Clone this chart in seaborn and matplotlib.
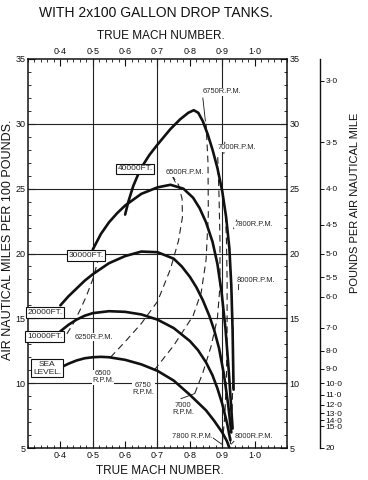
import matplotlib
matplotlib.use("Agg")
import matplotlib.pyplot as plt
import seaborn as sns
from matplotlib.ticker import MultipleLocator, FixedLocator, FuncFormatter

# solid curves: air nautical miles per 100 lb against true Mach number
sea_mach = [0.40, 0.425, 0.45, 0.475, 0.50, 0.525, 0.55, 0.60, 0.65, 0.70, 0.75, 0.80,
            0.825, 0.85, 0.875, 0.90, 0.915, 0.922]
sea_val = [11.2, 11.5, 11.75, 11.92, 12.0, 12.03, 12.0, 11.8, 11.45, 10.95, 10.2, 9.1,
           8.5, 7.9, 7.1, 6.2, 5.5, 5.0]

ft10_mach = [0.40, 0.425, 0.45, 0.475, 0.50, 0.55, 0.60, 0.65, 0.70, 0.75, 0.80, 0.825,
             0.85, 0.87, 0.885, 0.90, 0.915, 0.925]
ft10_val = [14.0, 14.5, 14.9, 15.2, 15.4, 15.55, 15.5, 15.3, 14.9, 14.25, 13.25, 12.55,
            11.6, 10.6, 9.6, 8.4, 6.9, 5.6]

ft20_mach = [0.40, 0.425, 0.45, 0.475, 0.50, 0.55, 0.60, 0.65, 0.70, 0.75, 0.775, 0.80,
             0.82, 0.84, 0.86, 0.875, 0.89, 0.905, 0.918, 0.928]
ft20_val = [16.0, 16.7, 17.3, 17.9, 18.4, 19.25, 19.8, 20.15, 20.1, 19.6, 19.0, 18.2,
            17.4, 16.4, 15.2, 14.1, 12.7, 10.7, 8.4, 6.2]

ft30_mach = [0.50, 0.525, 0.55, 0.575, 0.60, 0.65, 0.70, 0.74, 0.78, 0.81, 0.83, 0.85,
             0.87, 0.885, 0.898, 0.91, 0.92, 0.928, 0.932]
ft30_val = [20.3, 21.5, 22.4, 23.1, 23.7, 24.6, 25.1, 25.3, 25.0, 24.3, 23.5, 22.4,
            20.9, 19.2, 17.0, 14.2, 11.0, 8.0, 6.5]

ft40_mach = [0.60, 0.61, 0.625, 0.647, 0.675, 0.70, 0.74, 0.77, 0.795, 0.812, 0.826, 0.84,
             0.855, 0.87, 0.885, 0.90, 0.912, 0.922, 0.928, 0.932, 0.935]
ft40_val = [23.0, 24.0, 25.2, 26.5, 27.6, 28.4, 29.6, 30.35, 30.85, 31.05, 30.85, 30.2,
            29.2, 28.0, 26.6, 24.8, 22.8, 20.4, 17.5, 14.0, 9.5]

# dashed curves: constant engine r.p.m.
rpm6250_mach = [0.42, 0.44, 0.46, 0.48, 0.50, 0.52]
rpm6250_val = [13.8, 14.6, 15.6, 16.7, 18.0, 19.8]

rpm6500_mach = [0.555, 0.60, 0.65, 0.70, 0.74, 0.765, 0.777, 0.776, 0.765, 0.748]
rpm6500_val = [12.0, 13.2, 14.6, 16.3, 18.8, 21.0, 22.8, 24.2, 25.3, 25.9]

rpm6750_mach = [0.69, 0.75, 0.81, 0.835, 0.85, 0.857, 0.856, 0.85]
rpm6750_val = [11.0, 12.9, 15.2, 17.0, 19.5, 23.0, 27.0, 30.0]

rpm7000_mach = [0.815, 0.84, 0.865, 0.885, 0.893, 0.893, 0.89, 0.886]
rpm7000_val = [9.2, 10.8, 12.8, 15.0, 17.5, 21.0, 24.5, 27.5]

rpm7800_mach = [0.90, 0.908, 0.913, 0.915, 0.915, 0.913, 0.91]
rpm7800_val = [5.3, 7.5, 10.5, 14.0, 18.0, 21.0, 22.8]

rpm8000_mach = [0.925, 0.93, 0.933, 0.933, 0.93, 0.927]
rpm8000_val = [5.3, 7.5, 10.5, 14.0, 16.5, 17.8]

mach_ticks = [0.4, 0.5, 0.6, 0.7, 0.8, 0.9, 1.0]
grid_mach = [0.5, 0.7, 0.9]
grid_val = [10, 15, 20, 25, 30]
pounds_ticks = [3.0, 3.5, 4.0, 4.5, 5.0, 5.5, 6.0, 7.0, 8.0, 9.0, 10.0, 11.0, 12.0, 13.0, 14.0, 15.0, 20]


def dot(v):
    return f"{v:.1f}".replace(".", "\u00b7")


sns.set_theme(style="ticks")
plt.rcParams["font.family"] = ["Liberation Sans", "DejaVu Sans"]

W, H = 368, 480
fig = plt.figure(figsize=(W / 100, H / 100), dpi=100)
fig.patch.set_facecolor("white")
ax = fig.add_axes([28 / W, 1 - 448 / H, (287 - 28) / W, (448 - 59) / H])

for gx in grid_mach:
    ax.axvline(gx, color="#222222", lw=0.8, zorder=1)
for gy in grid_val:
    ax.axhline(gy, color="#222222", lw=0.8, zorder=1)

solid = [(sea_mach, sea_val), (ft10_mach, ft10_val), (ft20_mach, ft20_val),
         (ft30_mach, ft30_val), (ft40_mach, ft40_val)]
for m, v in solid:
    sns.lineplot(x=m, y=v, ax=ax, color="#111111", lw=1.9, sort=False, estimator=None, zorder=3)

dashed = [(rpm6250_mach, rpm6250_val), (rpm6500_mach, rpm6500_val), (rpm6750_mach, rpm6750_val),
          (rpm7000_mach, rpm7000_val), (rpm7800_mach, rpm7800_val), (rpm8000_mach, rpm8000_val)]
for m, v in dashed:
    sns.lineplot(x=m, y=v, ax=ax, color="#222222", lw=0.8, linestyle=(0, (6, 4)),
                 sort=False, estimator=None, zorder=2)

ax.set_xlim(0.3, 1.1)
ax.set_ylim(5, 35)
ax.set_xlabel("")
ax.set_ylabel("")
ax.xaxis.set_major_locator(FixedLocator(mach_ticks))
ax.xaxis.set_minor_locator(MultipleLocator(0.02))
ax.xaxis.set_major_formatter(FuncFormatter(lambda v, _: dot(v)))
ax.yaxis.set_major_locator(MultipleLocator(5))
ax.yaxis.set_minor_locator(MultipleLocator(1))
ax.tick_params(which="both", direction="in", top=True, right=True, labeltop=True,
               labelright=True, labelsize=6.5, pad=2, colors="#111111")
ax.tick_params(which="major", length=5, width=0.8)
ax.tick_params(which="minor", length=2.5, width=0.6)
for s in ax.spines.values():
    s.set_linewidth(1.1)
    s.set_color("#111111")

# altitude boxes
box = dict(boxstyle="square,pad=0.2", fc="white", ec="#111111", lw=0.8)
for x, y, t in [(0.631, 26.54, "40000FT."), (0.479, 19.85, "30000FT."),
                (0.352, 15.46, "20000FT."), (0.352, 13.6, "10000FT."),
                (0.359, 11.15, "SEA\nLEVEL.")]:
    ax.text(x, y, t, ha="center", va="center", fontsize=6, bbox=box, zorder=5,
            linespacing=1.1)

# r.p.m. labels
for x, y, t in [(0.90, 32.46, "6750R.P.M."), (0.945, 28.15, "7000R.P.M."),
                (0.785, 26.23, "6500R.P.M."), (0.997, 22.23, "7800R.P.M."),
                (1.005, 17.92, "8000R.P.M."), (0.503, 13.54, "6250R.P.M."),
                (0.532, 10.46, "6500\nR.P.M."), (0.656, 9.54, "6750\nR.P.M."),
                (0.779, 8.0, "7000\nR.P.M."), (0.808, 5.85, "7800 R.P.M."),
                (0.997, 5.85, "8000R.P.M.")]:
    ax.text(x, y, t, ha="center", va="center", fontsize=5.4, zorder=5, linespacing=1.0,
            bbox=dict(boxstyle="square,pad=0.05", fc="white", ec="none"))

lead = dict(color="#111111", lw=0.6)
for (x0, y0), (x1, y1) in [((0.840, 32.0), (0.848, 30.2)), ((0.908, 28.6), (0.905, 27.7)),
                           ((0.745, 26.0), (0.755, 25.5)), ((0.945, 22.6), (0.935, 21.9)),
                           ((0.952, 18.2), (0.950, 17.2)), ((0.772, 8.8), (0.815, 9.2)),
                           ((0.870, 5.8), (0.898, 5.3)), ((0.950, 5.9), (0.928, 5.3))]:
    ax.plot([x0, x1], [y0, y1], **lead, zorder=4)

# pounds per air nautical mile scale
ax2 = fig.add_axes([300 / W, 1 - 448 / H, 20 / W, (448 - 59) / H])
ax2.set_ylim(5, 35)
ax2.patch.set_visible(False)
for k in ["left", "top", "bottom"]:
    ax2.spines[k].set_visible(False)
ax2.spines["right"].set_linewidth(1.0)
ax2.spines["right"].set_color("#111111")
ax2.set_xticks([])
ax2.yaxis.tick_right()
ax2.set_yticks([100 / p for p in pounds_ticks])
ax2.set_yticklabels([dot(p) if p < 20 else "20" for p in pounds_ticks])
ax2.tick_params(axis="y", direction="out", length=3, width=0.7, labelsize=6, pad=1,
                colors="#111111")

fig.text(156 / W, 1 - 13 / H, "WITH 2x100 GALLON DROP TANKS.", ha="center", va="center",
         fontsize=10, color="#111111")
fig.text(161 / W, 1 - 36 / H, "TRUE MACH NUMBER.", ha="center", va="center",
         fontsize=8.5, color="#111111")
fig.text(160 / W, 1 - 471 / H, "TRUE MACH NUMBER.", ha="center", va="center",
         fontsize=8.5, color="#111111")
fig.text(8 / W, 1 - 240 / H, "AIR NAUTICAL MILES PER 100 POUNDS.", rotation=90,
         ha="center", va="center", fontsize=9, color="#111111")
fig.text(355 / W, 1 - 203 / H, "POUNDS PER AIR NAUTICAL MILE", rotation=90,
         ha="center", va="center", fontsize=8, color="#111111")

fig.savefig("out.png", dpi=100, facecolor="white")
